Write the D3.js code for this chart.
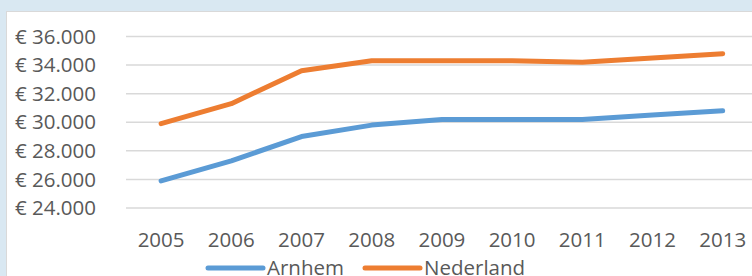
<!DOCTYPE html>
<html>
<head>
<meta charset="utf-8">
<script src="https://cdn.jsdelivr.net/npm/d3@7"></script>
<style>
  body { margin: 0; background: #d9e8f2; }
  svg { display: block; }
</style>
</head>
<body>
<script>
// jaren en inkomens
var years = [2005, 2006, 2007, 2008, 2009, 2010, 2011, 2012, 2013];
var arnhem = [25900, 27300, 29000, 29800, 30200, 30200, 30200, 30500, 30800];
var nederland = [29900, 31300, 33600, 34300, 34300, 34300, 34200, 34500, 34800];
var yTicks = [24000, 26000, 28000, 30000, 32000, 34000, 36000];
var seriesNames = ["Arnhem", "Nederland"];
var colors = ["#5b9bd5", "#ed7d31"];

var width = 752, height = 276;
var svg = d3.select("body").append("svg").attr("width", width).attr("height", height);

// witte grafiekvlak
svg.append("rect")
   .attr("x", 6.5).attr("y", 11.5)
   .attr("width", width).attr("height", height)
   .attr("fill", "white").attr("stroke", "#d9d9d9");

var x = d3.scaleBand().domain(years).range([126, 126 + 70.2 * years.length]);
var y = d3.scaleLinear().domain([24000, 36000]).range([208, 36.5]);

var fmt = function(v) { return "€ " + d3.format(",")(v).replace(/,/g, "."); };

// gridlijnen
svg.selectAll(".grid")
   .data(yTicks)
   .enter().append("line")
   .attr("x1", 126).attr("x2", width)
   .attr("y1", d => y(d)).attr("y2", d => y(d))
   .attr("stroke", "#d9d9d9").attr("stroke-width", 1.5);

var font = "'Open Sans', sans-serif";

svg.selectAll(".ylab")
   .data(yTicks)
   .enter().append("text")
   .attr("x", 15).attr("y", d => y(d))
   .attr("dy", "0.35em")
   .attr("font-family", font).attr("font-size", 20.5)
   .attr("fill", "#595959")
   .text(fmt);

svg.selectAll(".xlab")
   .data(years)
   .enter().append("text")
   .attr("x", d => x(d) + x.bandwidth() / 2).attr("y", 247)
   .attr("text-anchor", "middle")
   .attr("font-family", font).attr("font-size", 20.5)
   .attr("fill", "#595959")
   .text(d => d);

var line = d3.line()
   .x((d, i) => x(years[i]) + x.bandwidth() / 2)
   .y(d => y(d));

[arnhem, nederland].forEach(function(s, i) {
  svg.append("path")
     .attr("d", line(s))
     .attr("fill", "none")
     .attr("stroke", colors[i])
     .attr("stroke-width", 5)
     .attr("stroke-linecap", "round")
     .attr("stroke-linejoin", "round");
});

// legenda
var legX = [208, 365];
seriesNames.forEach(function(n, i) {
  svg.append("line")
     .attr("x1", legX[i]).attr("x2", legX[i] + 55)
     .attr("y1", 268).attr("y2", 268)
     .attr("stroke", colors[i]).attr("stroke-width", 5)
     .attr("stroke-linecap", "round");
  svg.append("text")
     .attr("x", legX[i] + 59).attr("y", 268)
     .attr("dy", "0.35em")
     .attr("font-family", font).attr("font-size", 20.5)
     .attr("fill", "#595959")
     .text(n);
});
</script>
</body>
</html>
